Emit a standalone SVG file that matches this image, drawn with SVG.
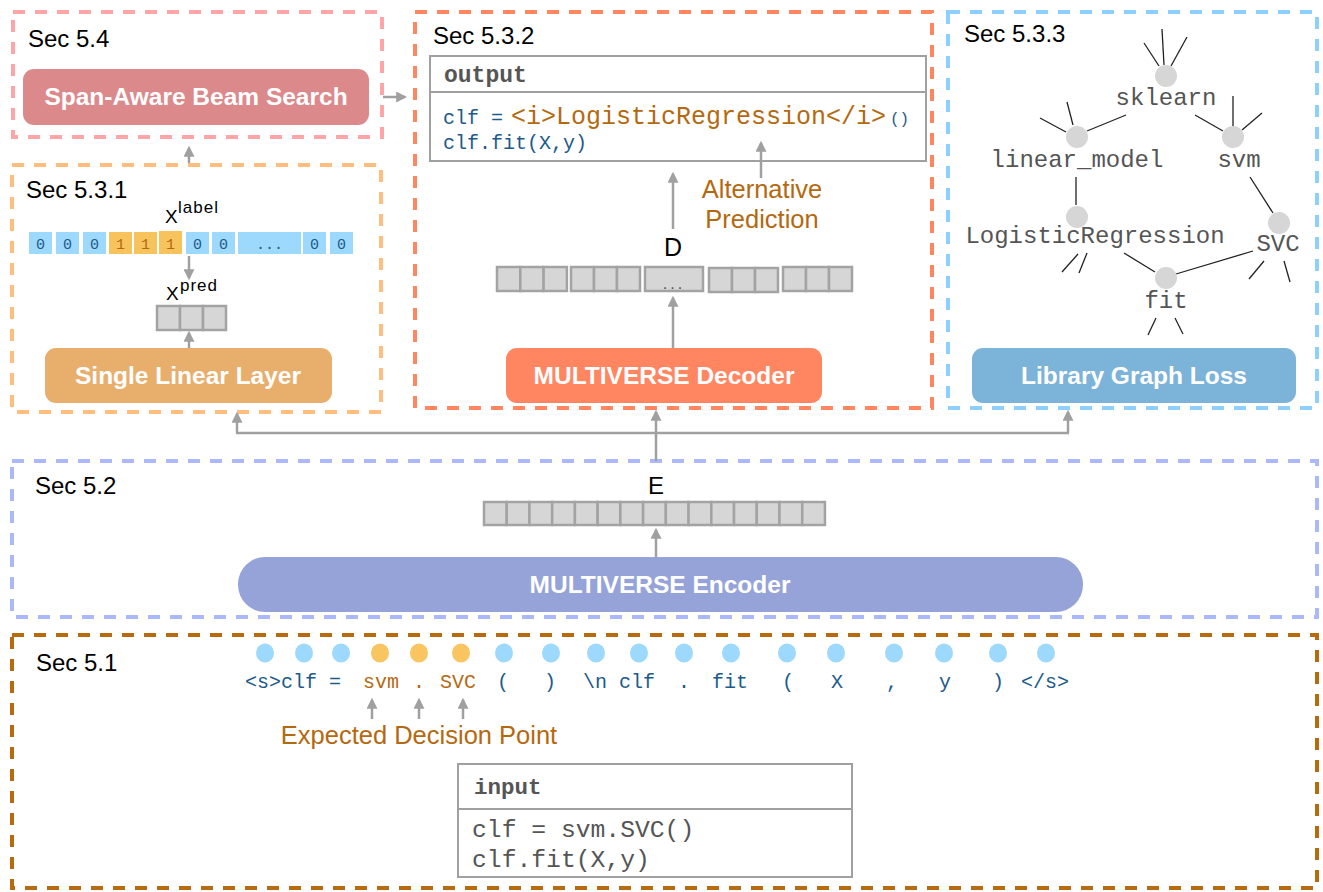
<svg xmlns="http://www.w3.org/2000/svg" width="1323" height="892" viewBox="0 0 1323 892">
<defs>
<style>
.sec{fill:none;stroke-width:4;stroke-dasharray:12 10}
.lbl{font-family:"Liberation Sans",Arial,sans-serif;font-size:24px;fill:#000}
.btn{font-family:"Liberation Sans",Arial,sans-serif;font-size:24.5px;font-weight:bold;fill:#fff;text-anchor:middle}
.cell{fill:#d6d6d6;stroke:#a3a3a3;stroke-width:2.5}
.arr{stroke:#a0a0a0;stroke-width:2.5;fill:none}
.gl{stroke:#222;stroke-width:1.3}
.gn{fill:#d6d6d6}
.gt{font-family:"Liberation Mono","Courier New",monospace;font-size:24px;fill:#555;text-anchor:middle}
.tok{font-family:"Liberation Mono","Courier New",monospace;font-size:20px;fill:#1d5a8a}
.brn{fill:#b5690f}
.bit{font-family:"Liberation Mono","Courier New",monospace;font-size:15px;text-anchor:middle}
.sans{font-family:"Liberation Sans",Arial,sans-serif}
</style>
<marker id="ah" viewBox="0 0 10 10" refX="8" refY="5" markerWidth="11" markerHeight="11" markerUnits="userSpaceOnUse" orient="auto"><path d="M0,0 L10,5 L0,10 z" fill="#a0a0a0"/></marker>
</defs>
<rect width="1323" height="892" fill="#fff"/>

<g id="sec54">
<rect class="sec" x="13" y="12" width="369" height="125" stroke="#ffa5a8"/>
<text class="lbl" x="28" y="47">Sec 5.4</text>
<rect x="23" y="69" width="346" height="56" rx="11" fill="#db898b"/>
<text class="btn" x="196" y="105">Span-Aware Beam Search</text>
</g>

<g id="sec531">
<rect class="sec" x="12" y="165" width="369" height="247" stroke="#ffbe7d"/>
<text class="lbl" x="26" y="198">Sec 5.3.1</text>
<text class="sans" x="165" y="223" font-size="19">X</text>
<text class="sans" x="178" y="213" font-size="17" letter-spacing="1">label</text>
<g>
<rect x="29" y="232" width="23" height="22" fill="#9dd8fd"/>
<rect x="56" y="232" width="23" height="22" fill="#9dd8fd"/>
<rect x="83" y="232" width="23" height="22" fill="#9dd8fd"/>
<rect x="109" y="232" width="23" height="22" fill="#f7c35c"/>
<rect x="134" y="232" width="23" height="22" fill="#f7c35c"/>
<rect x="159" y="231" width="23" height="23" fill="#f7c35c"/>
<rect x="186" y="232" width="23" height="22" fill="#9dd8fd"/>
<rect x="212" y="232" width="23" height="22" fill="#9dd8fd"/>
<rect x="238" y="232" width="63" height="22" fill="#9dd8fd"/>
<rect x="303" y="232" width="23" height="22" fill="#9dd8fd"/>
<rect x="330" y="232" width="23" height="22" fill="#9dd8fd"/>
<text class="bit" y="249" fill="#1d5a8a"><tspan x="40.5">0</tspan><tspan x="67.5">0</tspan><tspan x="94.5">0</tspan></text>
<text class="bit brn" y="249"><tspan x="120.5">1</tspan><tspan x="145.5">1</tspan><tspan x="170.5">1</tspan></text>
<text class="bit" y="249" fill="#1d5a8a"><tspan x="197.5">0</tspan><tspan x="223.5">0</tspan><tspan x="269.5">...</tspan><tspan x="314.5">0</tspan><tspan x="341.5">0</tspan></text>
</g>
<text class="sans" x="166" y="300" font-size="19">X</text>
<text class="sans" x="180" y="291" font-size="17" letter-spacing="1">pred</text>
<rect class="cell" x="157" y="306" width="23" height="24"/>
<rect class="cell" x="180" y="306" width="23" height="24"/>
<rect class="cell" x="203" y="306" width="23" height="24"/>
<rect x="45" y="348" width="287" height="55" rx="11" fill="#e8ae6c"/>
<text class="btn" x="188" y="384">Single Linear Layer</text>
</g>

<g id="sec532">
<rect class="sec" x="415" y="12" width="517" height="396" stroke="#ff865f"/>
<text class="lbl" x="433" y="44">Sec 5.3.2</text>
<rect x="430" y="56" width="496" height="105" fill="#fff" stroke="#a0a0a0" stroke-width="2"/>
<line x1="430" y1="92" x2="926" y2="92" stroke="#a0a0a0" stroke-width="2"/>
<text x="444" y="82" font-family="'Liberation Mono','Courier New',monospace" font-size="23" font-weight="bold" fill="#555">output</text>
<text class="tok" y="124" font-size="17"><tspan x="443">clf = </tspan><tspan class="brn" font-size="25" x="511">&lt;i&gt;LogisticRegression&lt;/i&gt;</tspan><tspan x="890" font-size="16">()</tspan></text>
<text class="tok" x="443" y="149" font-size="17.5">clf.fit(X,y)</text>
<text class="sans brn" x="762" y="198" font-size="25.5" text-anchor="middle">Alternative</text>
<text class="sans brn" x="762" y="228" font-size="25.5" text-anchor="middle">Prediction</text>
<text class="sans" x="673" y="256" font-size="25" text-anchor="middle">D</text>
<g>
<rect class="cell" x="497" y="267" width="23.3" height="24"/><rect class="cell" x="520.3" y="267" width="23.3" height="24"/><rect class="cell" x="543.6" y="267" width="23.3" height="24"/>
<rect class="cell" x="571" y="267" width="23" height="24"/><rect class="cell" x="594" y="267" width="23" height="24"/><rect class="cell" x="617" y="267" width="23" height="24"/>
<rect class="cell" x="645" y="267" width="58" height="24"/>
<rect class="cell" x="709" y="268" width="23" height="24"/><rect class="cell" x="732" y="268" width="23" height="24"/><rect class="cell" x="755" y="268" width="23" height="24"/>
<rect class="cell" x="783" y="267" width="23" height="24"/><rect class="cell" x="806" y="267" width="23" height="24"/><rect class="cell" x="829" y="267" width="23" height="24"/>
<text x="674" y="289" font-family="'Liberation Sans',Arial,sans-serif" font-size="16" fill="#555" text-anchor="middle" letter-spacing="3">...</text>
</g>
<rect x="506" y="348" width="316" height="55" rx="11" fill="#ff8661"/>
<text class="btn" x="664" y="384">MULTIVERSE Decoder</text>
</g>

<g id="sec533">
<rect class="sec" x="948" y="12" width="369" height="396" stroke="#8dcfff"/>
<text class="lbl" x="964" y="42">Sec 5.3.3</text>
<g>
<line class="gl" x1="1144" y1="43" x2="1159" y2="66"/>
<line class="gl" x1="1162" y1="29" x2="1164" y2="65"/>
<line class="gl" x1="1187" y1="37" x2="1171" y2="66"/>
<line class="gl" x1="1040" y1="118" x2="1066" y2="132"/>
<line class="gl" x1="1067" y1="102" x2="1073" y2="125"/>
<line class="gl" x1="1087" y1="131" x2="1126" y2="115"/>
<line class="gl" x1="1195" y1="115" x2="1223" y2="131"/>
<line class="gl" x1="1233" y1="96" x2="1233" y2="127"/>
<line class="gl" x1="1262" y1="113" x2="1242" y2="130"/>
<line class="gl" x1="1250" y1="177" x2="1273" y2="213"/>
<line class="gl" x1="1076" y1="177" x2="1076" y2="205"/>
<line class="gl" x1="1062" y1="272" x2="1078" y2="254"/>
<line class="gl" x1="1079" y1="273" x2="1087" y2="253"/>
<line class="gl" x1="1124" y1="253" x2="1155" y2="272"/>
<line class="gl" x1="1253" y1="251" x2="1176" y2="274"/>
<line class="gl" x1="1264" y1="261" x2="1249" y2="279"/>
<line class="gl" x1="1284" y1="261" x2="1290" y2="282"/>
<line class="gl" x1="1156" y1="318" x2="1148" y2="335"/>
<line class="gl" x1="1175" y1="318" x2="1183" y2="334"/>
</g>
<circle class="gn" cx="1166" cy="76" r="11"/>
<circle class="gn" cx="1077" cy="137" r="11"/>
<circle class="gn" cx="1233" cy="137" r="11"/>
<circle class="gn" cx="1077" cy="217" r="11"/>
<circle class="gn" cx="1279" cy="223" r="11"/>
<circle class="gn" cx="1166" cy="278" r="11"/>
<text class="gt" x="1166" y="105">sklearn</text>
<text class="gt" x="1077" y="167">linear_model</text>
<text class="gt" x="1239" y="167">svm</text>
<text class="gt" x="1095" y="243">LogisticRegression</text>
<text class="gt" x="1278" y="251">SVC</text>
<text class="gt" x="1166" y="308">fit</text>
<rect x="972" y="348" width="324" height="55" rx="11" fill="#7bb3d9"/>
<text class="btn" x="1134" y="384">Library Graph Loss</text>
</g>

<g id="sec52">
<rect class="sec" x="12" y="461" width="1305" height="156" stroke="#abb8fb"/>
<text class="lbl" x="35" y="494">Sec 5.2</text>
<text class="sans" x="656" y="494" font-size="24" text-anchor="middle">E</text>
<g>
<rect class="cell" x="484" y="502" width="22.73" height="23"/><rect class="cell" x="506.73" y="502" width="22.73" height="23"/><rect class="cell" x="529.46" y="502" width="22.73" height="23"/><rect class="cell" x="552.19" y="502" width="22.73" height="23"/><rect class="cell" x="574.92" y="502" width="22.73" height="23"/>
<rect class="cell" x="597.65" y="502" width="22.73" height="23"/><rect class="cell" x="620.38" y="502" width="22.73" height="23"/><rect class="cell" x="643.11" y="502" width="22.73" height="23"/><rect class="cell" x="665.84" y="502" width="22.73" height="23"/><rect class="cell" x="688.57" y="502" width="22.73" height="23"/>
<rect class="cell" x="711.3" y="502" width="22.73" height="23"/><rect class="cell" x="734.03" y="502" width="22.73" height="23"/><rect class="cell" x="756.76" y="502" width="22.73" height="23"/><rect class="cell" x="779.49" y="502" width="22.73" height="23"/><rect class="cell" x="802.22" y="502" width="22.73" height="23"/>
</g>
<rect x="238" y="557" width="845" height="55" rx="27" fill="#95a3d8"/>
<text class="btn" x="660" y="593">MULTIVERSE Encoder</text>
</g>

<g id="sec51">
<rect class="sec" x="12" y="635" width="1305" height="253" stroke="#b86b0e"/>
<text class="lbl" x="36" y="671">Sec 5.1</text>
<g>
<ellipse cx="265" cy="653" rx="9" ry="9.5" fill="#9dd8fd"/>
<ellipse cx="304" cy="653" rx="9" ry="9.5" fill="#9dd8fd"/>
<ellipse cx="341" cy="653" rx="9" ry="9.5" fill="#9dd8fd"/>
<ellipse cx="380" cy="653" rx="9" ry="9.5" fill="#f8c561"/>
<ellipse cx="419" cy="653" rx="9" ry="9.5" fill="#f8c561"/>
<ellipse cx="461" cy="653" rx="9" ry="9.5" fill="#f8c561"/>
<ellipse cx="504" cy="653" rx="9" ry="9.5" fill="#9dd8fd"/>
<ellipse cx="551" cy="653" rx="9" ry="9.5" fill="#9dd8fd"/>
<ellipse cx="596" cy="653" rx="9" ry="9.5" fill="#9dd8fd"/>
<ellipse cx="639" cy="653" rx="9" ry="9.5" fill="#9dd8fd"/>
<ellipse cx="684" cy="653" rx="9" ry="9.5" fill="#9dd8fd"/>
<ellipse cx="731" cy="653" rx="9" ry="9.5" fill="#9dd8fd"/>
<ellipse cx="787" cy="653" rx="9" ry="9.5" fill="#9dd8fd"/>
<ellipse cx="836" cy="653" rx="9" ry="9.5" fill="#9dd8fd"/>
<ellipse cx="894" cy="653" rx="9" ry="9.5" fill="#9dd8fd"/>
<ellipse cx="944" cy="653" rx="9" ry="9.5" fill="#9dd8fd"/>
<ellipse cx="998" cy="653" rx="9" ry="9.5" fill="#9dd8fd"/>
<ellipse cx="1046" cy="653" rx="9" ry="9.5" fill="#9dd8fd"/>
</g>
<g class="tok">
<text x="245" y="688">&lt;s&gt;clf =</text>
<text class="brn" x="363" y="688">svm</text>
<text class="brn" x="419" y="688" text-anchor="middle">.</text>
<text class="brn" x="440" y="688">SVC</text>
<text x="503" y="688" text-anchor="middle">(</text>
<text x="550" y="688" text-anchor="middle">)</text>
<text x="583" y="688">\n clf</text>
<text x="684" y="688" text-anchor="middle">.</text>
<text x="712" y="688">fit</text>
<text x="788" y="688" text-anchor="middle">(</text>
<text x="837" y="688" text-anchor="middle">X</text>
<text x="892" y="688" text-anchor="middle">,</text>
<text x="945" y="688" text-anchor="middle">y</text>
<text x="998" y="688" text-anchor="middle">)</text>
<text x="1021" y="688">&lt;/s&gt;</text>
</g>
<text class="sans brn" x="419" y="744" font-size="25.5" text-anchor="middle">Expected Decision Point</text>
<rect x="458" y="764" width="394" height="113" fill="#fff" stroke="#a0a0a0" stroke-width="2"/>
<line x1="458" y1="809" x2="852" y2="809" stroke="#a0a0a0" stroke-width="2"/>
<text x="474" y="794" font-family="'Liberation Mono','Courier New',monospace" font-size="22.5" font-weight="bold" fill="#555">input</text>
<text x="472" y="837" font-family="'Liberation Mono','Courier New',monospace" font-size="24.7" fill="#555">clf = svm.SVC()</text>
<text x="472" y="867" font-family="'Liberation Mono','Courier New',monospace" font-size="24.7" fill="#555">clf.fit(X,y)</text>
</g>

<g id="connectors">
<line class="arr" x1="383" y1="97" x2="405" y2="97" marker-end="url(#ah)"/>
<line class="arr" x1="189" y1="163" x2="189" y2="148" marker-end="url(#ah)"/>
<line class="arr" x1="189" y1="256" x2="189" y2="278" marker-end="url(#ah)"/>
<line class="arr" x1="189" y1="348" x2="189" y2="333" marker-end="url(#ah)"/>
<line class="arr" x1="673" y1="348" x2="673" y2="298" marker-end="url(#ah)"/>
<line class="arr" x1="673" y1="229" x2="673" y2="174" marker-end="url(#ah)"/>
<line class="arr" x1="761" y1="178" x2="761" y2="143" marker-end="url(#ah)"/>
<line class="arr" x1="656" y1="557" x2="656" y2="530" marker-end="url(#ah)"/>
<polyline class="arr" points="656,461 656,433"/>
<line class="arr" x1="236" y1="433" x2="1069" y2="433"/>
<line class="arr" x1="237" y1="433" x2="237" y2="414" marker-end="url(#ah)"/>
<line class="arr" x1="656" y1="433" x2="656" y2="412" marker-end="url(#ah)"/>
<line class="arr" x1="1068" y1="433" x2="1068" y2="412" marker-end="url(#ah)"/>
<line class="arr" x1="372" y1="719" x2="372" y2="700" marker-end="url(#ah)"/>
<line class="arr" x1="419" y1="719" x2="419" y2="700" marker-end="url(#ah)"/>
<line class="arr" x1="463" y1="719" x2="463" y2="700" marker-end="url(#ah)"/>
</g>
</svg>
